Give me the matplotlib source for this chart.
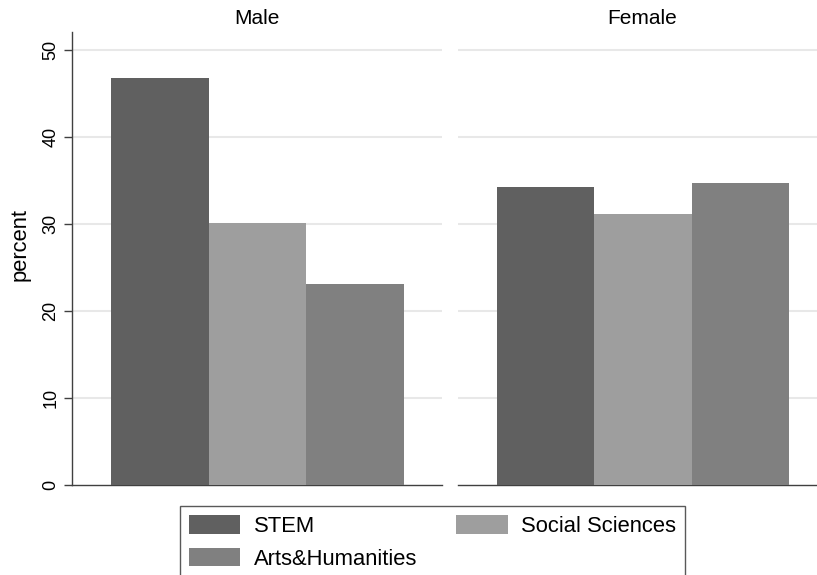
import matplotlib
matplotlib.use("Agg")
import matplotlib.pyplot as plt
from matplotlib.patches import Patch

plt.rcParams['font.family'] = ['Liberation Sans', 'DejaVu Sans']

panels = ["Male", "Female"]
fields = ["STEM", "Social Sciences", "Arts&Humanities"]
male = [46.8, 30.1, 23.1]
female = [34.2, 31.15, 34.7]
values = [male, female]
colors = ["#606060", "#9e9e9e", "#808080"]
yticks = [0, 10, 20, 30, 40, 50]

W, H = 817, 575
fig = plt.figure(figsize=(W / 100, H / 100), dpi=100)

def px_axes(x0, x1, ytop, ybot):
    return fig.add_axes([x0 / W, 1 - ybot / H, (x1 - x0) / W, (ybot - ytop) / H])

ax_l = px_axes(72, 442, 32, 485)
ax_r = px_axes(458, 827, 32, 485)
spine_c = "#404040"
for i, (ax, title, vals) in enumerate(zip([ax_l, ax_r], panels, values)):
    xs = list(range(len(fields)))
    ax.bar(xs, vals, width=1.0, color=colors, linewidth=0, zorder=3)
    ax.set_ylim(0, 52.07)
    ax.set_xlim(-0.898, 2.888)
    ax.set_yticks(yticks)
    for t in yticks[1:]:
        ax.axhline(t, color="#e8e8e8", linewidth=1.5, zorder=1)
    ax.set_xticks([])
    ax.set_title(title, fontsize=15, pad=6)
    for s in ["top", "right"]:
        ax.spines[s].set_visible(False)
    ax.spines["bottom"].set_color(spine_c)
    ax.spines["bottom"].set_linewidth(1.0)
    if i == 0:
        ax.spines["left"].set_color(spine_c)
        ax.spines["left"].set_linewidth(1.0)
        ax.tick_params(axis="y", direction="out", length=6, width=1, color=spine_c,
                       labelsize=13, pad=3)
        for lab in ax.get_yticklabels():
            lab.set_rotation(90)
            lab.set_va("center")
        ax.set_ylabel("percent", fontsize=15.8)
        ax.yaxis.set_label_coords(-0.113, 0.532)
    else:
        ax.spines["left"].set_visible(False)
        ax.tick_params(axis="y", left=False, labelleft=False)

handles = [Patch(facecolor=colors[0], label=fields[0]),
           Patch(facecolor=colors[2], label=fields[2]),
           Patch(facecolor=colors[1], label=fields[1])]
leg = fig.legend(handles=handles, ncol=2, loc="upper left",
                 bbox_to_anchor=(180 / W, 1 - 506 / H), fontsize=15.8,
                 frameon=True, fancybox=False, edgecolor="#303030",
                 handlelength=2.33, handleheight=0.91, handletextpad=0.6,
                 labelspacing=0.5, columnspacing=1.8, borderpad=0.42,
                 borderaxespad=0)
leg.get_frame().set_linewidth(1.0)

fig.savefig("out.png", dpi=100)
